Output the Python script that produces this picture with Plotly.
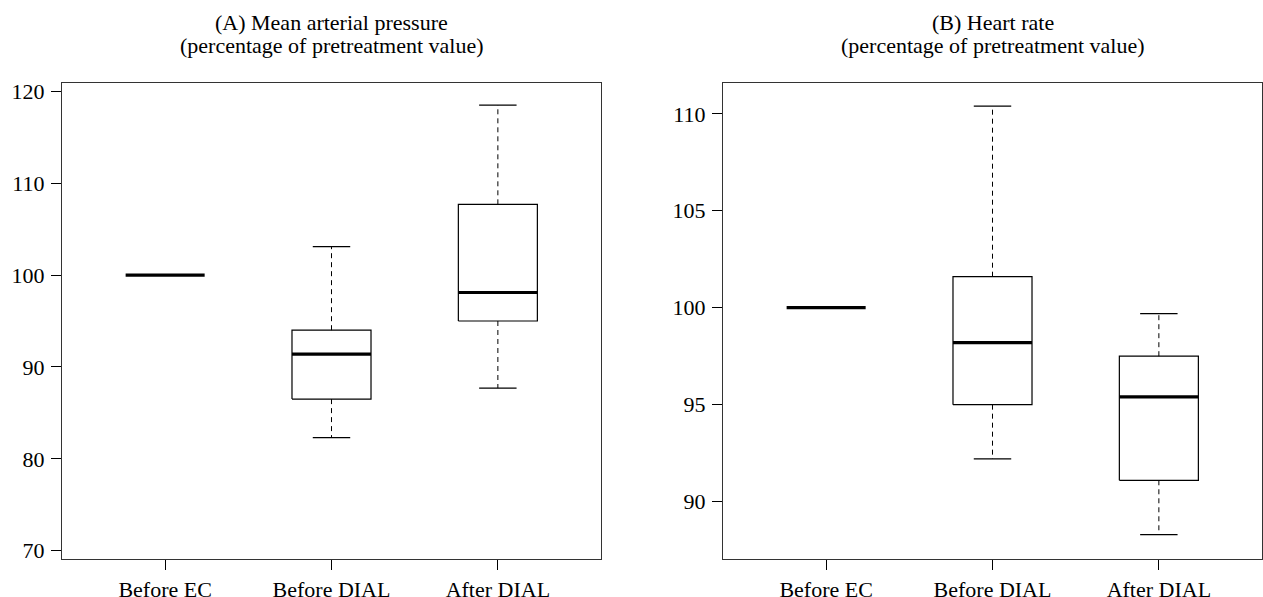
import plotly.graph_objects as go

categories = ["Before EC", "Before DIAL", "After DIAL"]

# Panel A: Mean arterial pressure (% of pretreatment)
map_lower = [100.0, 82.3, 87.7]
map_q1 = [100.0, 86.5, 95.0]
map_median = [100.0, 91.4, 98.1]
map_q3 = [100.0, 94.0, 107.7]
map_upper = [100.0, 103.1, 118.5]

# Panel B: Heart rate (% of pretreatment)
hr_lower = [100.0, 92.2, 88.3]
hr_q1 = [100.0, 95.0, 91.1]
hr_median = [100.0, 98.2, 95.4]
hr_q3 = [100.0, 101.6, 97.5]
hr_upper = [100.0, 110.4, 99.7]

titles = [
    ("(A) Mean arterial pressure", "(percentage of pretreatment value)"),
    ("(B) Heart rate", "(percentage of pretreatment value)"),
]

FONT = "Liberation Serif, Times New Roman, serif"
BOXW = 0.475
CAPW = 0.225

fig = go.Figure()


def add_panel(fig, xa, ya, lower, q1, med, q3, upper):
    for i, _ in enumerate(categories):
        c = i + 1
        l, r = c - BOXW / 2, c + BOXW / 2
        common = dict(xaxis=xa, yaxis=ya, mode="lines", hoverinfo="skip", showlegend=False)
        if q3[i] > q1[i]:
            fig.add_trace(go.Scatter(x=[l, r, r, l, l], y=[q1[i], q1[i], q3[i], q3[i], q1[i]],
                                     line=dict(color="black", width=1.2), **common))
        if upper[i] > q3[i]:
            fig.add_trace(go.Scatter(x=[c, c], y=[q3[i], upper[i]],
                                     line=dict(color="black", width=1, dash="5px,4px"), **common))
            fig.add_trace(go.Scatter(x=[c - CAPW / 2, c + CAPW / 2], y=[upper[i], upper[i]],
                                     line=dict(color="black", width=1.2), **common))
        if lower[i] < q1[i]:
            fig.add_trace(go.Scatter(x=[c, c], y=[q1[i], lower[i]],
                                     line=dict(color="black", width=1, dash="5px,4px"), **common))
            fig.add_trace(go.Scatter(x=[c - CAPW / 2, c + CAPW / 2], y=[lower[i], lower[i]],
                                     line=dict(color="black", width=1.2), **common))
        fig.add_trace(go.Scatter(x=[l, r], y=[med[i], med[i]],
                                 line=dict(color="black", width=3.2), **common))


add_panel(fig, "x", "y", map_lower, map_q1, map_median, map_q3, map_upper)
add_panel(fig, "x2", "y2", hr_lower, hr_q1, hr_median, hr_q3, hr_upper)

axis_common = dict(showgrid=False, zeroline=False, showline=True, mirror=True,
                   linecolor="#333333", linewidth=1.4, ticks="outside", ticklen=10,
                   tickwidth=1, tickcolor="black", automargin=False,
                   tickfont=dict(family=FONT, size=22, color="black"))

xcommon = dict(axis_common, tickmode="array", tickvals=[1, 2, 3], ticktext=categories,
               range=[0.38, 3.62], fixedrange=True)

fig.update_layout(
    width=1263, height=597,
    margin=dict(l=62, r=1, t=83, b=38),
    paper_bgcolor="white", plot_bgcolor="white",
    showlegend=False,
    xaxis=dict(xcommon, domain=[0, 539 / 1200], anchor="y"),
    xaxis2=dict(xcommon, domain=[661 / 1200, 1], anchor="y2"),
    yaxis=dict(axis_common, range=[69.1, 120.9], tickvals=[70, 80, 90, 100, 110, 120],
               anchor="x", ticklabelstandoff=2),
    yaxis2=dict(axis_common, range=[87.04, 111.59], tickvals=[90, 95, 100, 105, 110],
                anchor="x2", ticklabelstandoff=2),
)

centers = [539 / 2400, (661 / 1200 + 1) / 2]
for (t1, t2), cx in zip(titles, centers):
    fig.add_annotation(text=t1, xref="paper", yref="paper", x=cx, y=1.127,
                       xanchor="center", yanchor="middle", showarrow=False,
                       font=dict(family=FONT, size=22, color="black"))
    fig.add_annotation(text=t2, xref="paper", yref="paper", x=cx, y=1.0788,
                       xanchor="center", yanchor="middle", showarrow=False,
                       font=dict(family=FONT, size=22, color="black"))

fig.write_html("out.html",
               config={"displayModeBar": False},
               post_script="document.body.style.margin='0';document.body.style.padding='0';"
                           "document.body.style.overflow='hidden';")
